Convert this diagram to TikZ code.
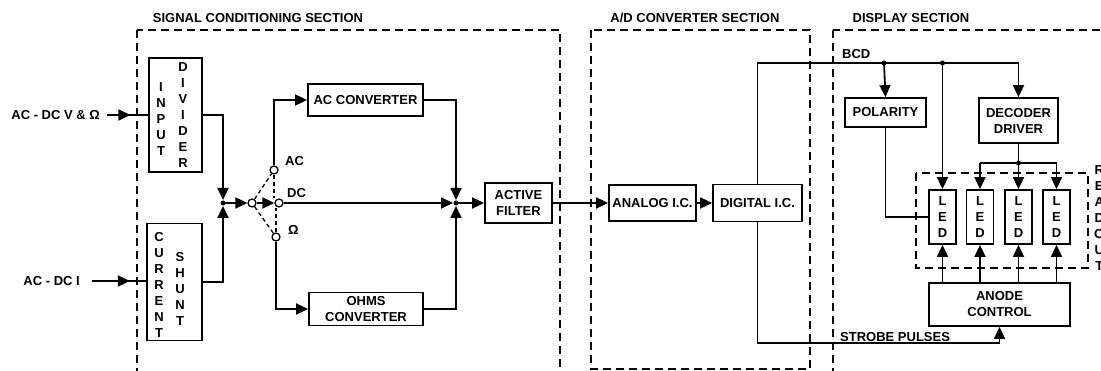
\documentclass[tikz,border=0pt]{standalone}
\usepackage{fontspec}
\setmainfont{Liberation Sans}
\usetikzlibrary{arrows.meta,decorations.markings}
\newcommand{\lbl}{\fontsize{13}{16}\selectfont\bfseries}

\tikzset{
  wire/.style={line width=1.8pt},
  arr/.style={-{Triangle[length=12pt,width=11pt]}},
  blk/.style={draw, line width=1.8pt, inner sep=0pt, align=center, font=\lbl, fill=white},
  sect/.style={line width=1.5pt, dash pattern=on 8pt off 5pt},
  sw/.style={draw, circle, line width=1.3pt, minimum size=8pt, inner sep=0pt, fill=white},
  gang/.style={line width=1.3pt, dash pattern=on 4pt off 3pt},
  txt/.style={font=\lbl, inner sep=0pt, align=center},
  midarrow/.style={postaction={decorate}, decoration={markings,
      mark=at position #1 with {\arrow{Triangle[length=12pt,width=11pt]}}}}
}

\begin{document}
\begin{tikzpicture}[x=1pt, y=-1pt]
    \useasboundingbox (0,0) rectangle (1101,371);

    % Sections
    \draw[sect] (137,30) rectangle (560,390);
    \draw[sect] (591,30) rectangle (810,369);
    \draw[sect] (833,30) rectangle (1120,390);
    \draw[sect] (916,173) rectangle (1088,268);
    \node[txt] (tsig) at (258,18) {SIGNAL CONDITIONING SECTION};
    \node[txt] (tad) at (695,18) {A/D CONVERTER SECTION};
    \node[txt] (tdisp) at (911,18) {DISPLAY SECTION};

    % Signal conditioning
    \node[blk, minimum width=53, minimum height=114] (indiv) at (175.5,115) {};
    \node[txt] (indivA) at (161,119) {I\\N\\P\\U\\T};
    \node[txt] (indivB) at (183,115.5) {D\\I\\V\\I\\D\\E\\R};
    \node[blk, minimum width=55, minimum height=117] (cshunt) at (174.5,282) {};
    \node[txt] (cshuntA) at (159,285) {C\\U\\R\\R\\E\\N\\T};
    \node[txt] (cshuntB) at (180,288.5) {S\\H\\U\\N\\T};
    \node[blk, minimum width=115, minimum height=32] (acconv) at (365.5,100) {AC CONVERTER};
    \node[blk, minimum width=114, minimum height=33] (ohms) at (366,309) {OHMS\\CONVERTER};
    \node[blk, minimum width=67, minimum height=40] (filter) at (518.5,203) {ACTIVE\\FILTER};

    % Inputs
    \node[txt, anchor=east] (vin) at (100,115) {AC - DC V \& Ω};
    \node[txt, anchor=east] (iin) at (80,281) {AC - DC I};
    \coordinate (vin0) at (107,115);
    \coordinate (iin0) at (92,281);
    \draw[wire, midarrow=0.57] (vin0) -- (indiv.west);
    \draw[wire, midarrow=0.7] (iin0) -- (cshunt.west |- iin0);

    % Switch
    \coordinate (jin) at (223,203);
    \coordinate (jout) at (456,203);
    \node[sw] (swp) at (252,203) {};
    \node[sw] (swac) at (274,170) {};
    \node[sw] (swdc) at (279,203) {};
    \node[sw] (swom) at (276,237) {};
    \node[txt, anchor=west] (lac) at (285,161) {AC};
    \node[txt, anchor=west] (ldc) at (287,193) {DC};
    \node[txt, anchor=west] (lom) at (288,230) {Ω};
    \draw[gang] (swp) -- (swac);
    \draw[gang] (swp) -- (swom);
    \draw[gang] (swac) -- (swac |- swdc.north);
    \draw[gang] (swom) -- (swom |- swdc.south);

    \draw[wire, arr, shorten >=3pt] (indiv.east) -| (jin);
    \draw[wire, arr, shorten >=3pt] (cshunt.east) -| (jin);
    \fill (jin) circle (2.5);
    \draw[wire, arr] (jin) -- (swp);
    \draw[wire, arr] (swp) -- (swdc);
    \draw[wire, arr] (swac) |- (acconv.west);
    \draw[wire, arr] (swom) |- (ohms.west);
    \draw[wire, arr, shorten >=3pt] (swdc) -- (jout);
    \draw[wire, arr, shorten >=3pt] (acconv.east) -| (jout);
    \draw[wire, arr, shorten >=3pt] (ohms.east) -| (jout);
    \fill (jout) circle (2.5);
    \draw[wire, arr] (jout) -- (filter.west);

    % A/D converter
    \node[blk, minimum width=87, minimum height=36] (analog) at (652.5,203) {ANALOG I.C.};
    \node[blk, minimum width=89, minimum height=37] (digital) at (757.5,203) {DIGITAL I.C.};
    \draw[wire, arr] (filter.east) -- (analog.west);
    \draw[wire, arr] (analog.east) -- (digital.west);

    % Display
    \node[blk, minimum width=81, minimum height=29] (polarity) at (885.5,112.5) {POLARITY};
    \node[blk, minimum width=79, minimum height=45] (decoder) at (1018.5,120.5) {DECODER\\DRIVER};
    \node[blk, minimum width=27, minimum height=54] (led1) at (942.5,217) {L\\E\\D};
    \node[blk, minimum width=27, minimum height=54] (led2) at (980,217) {L\\E\\D};
    \node[blk, minimum width=27, minimum height=54] (led3) at (1018.5,217) {L\\E\\D};
    \node[blk, minimum width=27, minimum height=54] (led4) at (1056.5,217) {L\\E\\D};
    \node[blk, minimum width=141, minimum height=43] (anode) at (999.5,304.5) {ANODE\\CONTROL};
    \node[txt, anchor=west] (readout) at (1094,218.5) {R\\E\\A\\D\\O\\U\\T};
    \node[txt, anchor=west] (bcd) at (842,54) {BCD};
    \node[txt, anchor=west] (strobe) at (840,337) {STROBE PULSES};

    \coordinate (bcdA) at (884,63);
    \coordinate (bcdB) at (942.5,63);
    \coordinate (ddj) at (1018.5,163);
    \coordinate (strb) at (999.5,343);
    \draw[wire, arr] (digital.north) |- (bcdA) -- (bcdB) -| (decoder.north);
    \draw[wire, arr] (bcdA) -- (polarity.north);
    \draw[wire, arr] (bcdB) -- (led1.north);
    \fill (bcdA) circle (2.5);
    \fill (bcdB) circle (2.5);
    \draw[wire] (polarity.south) |- (led1.west);
    \draw[wire] (decoder.south) -- (ddj);
    \draw[wire] (led2.north |- ddj) -- (led4.north |- ddj);
    \fill (ddj) circle (2.5);
    \foreach \n in {led2,led3,led4}
        \draw[wire, arr] (\n.north |- ddj) -- (\n.north);
    \foreach \n in {led1,led2,led3,led4}
        \draw[wire, arr] (anode.north -| \n) -- (\n.south);
    \draw[wire, arr] (digital.south) |- (strb) -- (anode.south);
\end{tikzpicture}
\end{document}
